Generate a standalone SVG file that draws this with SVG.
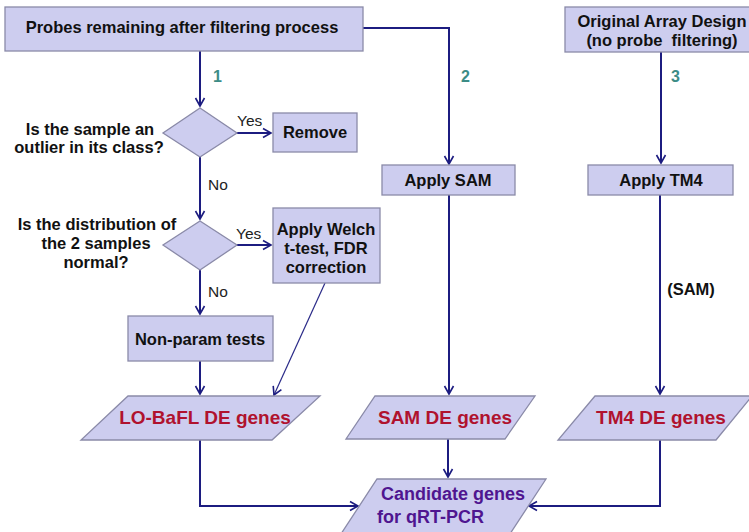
<svg xmlns="http://www.w3.org/2000/svg" width="749" height="532" viewBox="0 0 749 532">
<style>
.box{fill:#cdcdef;stroke:#8a8aa8;stroke-width:1.3}
.t{font-family:"Liberation Sans",Arial,sans-serif;font-weight:bold;font-size:16.5px;fill:#111;text-anchor:middle}
.q{font-family:"Liberation Sans",Arial,sans-serif;font-weight:bold;font-size:16.5px;fill:#111;text-anchor:middle}
.yn{font-family:"Liberation Sans",Arial,sans-serif;font-size:15.5px;fill:#222}
.num{font-family:"Liberation Sans",Arial,sans-serif;font-weight:bold;font-size:16px;fill:#3c8c86}
.de{font-family:"Liberation Sans",Arial,sans-serif;font-weight:bold;font-size:19px;fill:#b0122e;text-anchor:middle}
.cand{font-family:"Liberation Sans",Arial,sans-serif;font-weight:bold;font-size:18px;fill:#4f1590}
.c{fill:none;stroke:#1c1c80;stroke-width:2}
.thin{fill:none;stroke:#2a2a88;stroke-width:1.2}
</style>
<defs>
<marker id="arr" markerUnits="userSpaceOnUse" markerWidth="12" markerHeight="12" refX="10" refY="6" orient="auto">
<path d="M2,1.5 L10,6 L2,10.5" fill="none" stroke="#1c1c80" stroke-width="1.6"/>
</marker>
</defs>

<g id="connectors">
<path class="c" d="M200,51 L200,106" marker-end="url(#arr)"/>
<path class="c" d="M363,28 L449,28 L449,164" marker-end="url(#arr)"/>
<path class="c" d="M661,52 L661,163" marker-end="url(#arr)"/>
<path class="c" d="M237,133 L271,133" marker-end="url(#arr)"/>
<path class="c" d="M200,157 L200,219" marker-end="url(#arr)"/>
<path class="c" d="M237,245 L271,245" marker-end="url(#arr)"/>
<path class="c" d="M200,270 L200,314" marker-end="url(#arr)"/>
<path class="c" d="M200,361 L200,394" marker-end="url(#arr)"/>
<path class="thin" d="M325,283 L274,395" marker-end="url(#arr)"/>
<path class="c" d="M449,195 L449,394" marker-end="url(#arr)"/>
<path class="c" d="M660,195 L660,394" marker-end="url(#arr)"/>
<path class="c" d="M448,439 L448,477" marker-end="url(#arr)"/>
<path class="c" d="M200,440 L200,506 L358,506" marker-end="url(#arr)"/>
<path class="c" d="M660,440 L660,506 L529,506" marker-end="url(#arr)"/>
<text class="num" x="213" y="82">1</text>
<text class="num" x="461" y="82">2</text>
<text class="num" x="671" y="82">3</text>
<text class="yn" x="237" y="126">Yes</text>
<text class="yn" x="236" y="239">Yes</text>
<text class="yn" x="208" y="190">No</text>
<text class="yn" x="208" y="297">No</text>
<text class="t" x="691" y="295">(SAM)</text>
</g>

<g id="probes">
<rect class="box" x="5" y="7" width="358" height="44"/>
<text class="t" x="182" y="33">Probes remaining after filtering process</text>
</g>

<g id="original">
<rect class="box" x="565" y="7" width="195" height="45"/>
<text class="t" x="662" y="27">Original Array Design</text>
<text class="t" x="662" y="46" xml:space="preserve">(no probe  filtering)</text>
</g>

<g id="outlier">
<polygon class="box" points="200,108 237,133 200,157 163,133"/>
<text class="q" x="90" y="135">Is the sample an</text>
<text class="q" x="89" y="153">outlier in its class?</text>
</g>

<g id="remove">
<rect class="box" x="273" y="113" width="84" height="39"/>
<text class="t" x="315" y="138">Remove</text>
</g>

<g id="normal">
<polygon class="box" points="200,221 237,245 200,270 163,245"/>
<text class="q" x="97" y="230">Is the distribution of</text>
<text class="q" x="96" y="249">the 2 samples</text>
<text class="q" x="96" y="268">normal?</text>
</g>

<g id="welch">
<rect class="box" x="273" y="208" width="107" height="75"/>
<text class="t" x="326" y="235">Apply Welch</text>
<text class="t" x="326" y="254">t-test, FDR</text>
<text class="t" x="326" y="273">correction</text>
</g>

<g id="nonparam">
<rect class="box" x="128" y="316" width="145" height="45"/>
<text class="t" x="200" y="345">Non-param tests</text>
</g>

<g id="applysam">
<rect class="box" x="382" y="165" width="133" height="30"/>
<text class="t" x="448" y="186">Apply SAM</text>
</g>

<g id="applytm4">
<rect class="box" x="588" y="165" width="145" height="30"/>
<text class="t" x="661" y="186">Apply TM4</text>
</g>

<g id="lobafl">
<polygon class="box" points="128,396 320,396 272,440 81,440"/>
<text class="de" x="205" y="424">LO-BaFL DE genes</text>
</g>

<g id="samde">
<polygon class="box" points="375,396 535,396 505,439 346,439"/>
<text class="de" x="445" y="424">SAM DE genes</text>
</g>

<g id="tm4de">
<polygon class="box" points="595,396 752,396 716,440 558,440"/>
<text class="de" x="661" y="424">TM4 DE genes</text>
</g>

<g id="candidate">
<polygon class="box" points="377,479 546,479 506,540 337,540"/>
<text class="cand" x="381" y="500">Candidate genes</text>
<text class="cand" x="377" y="523">for qRT-PCR</text>
</g>
</svg>
